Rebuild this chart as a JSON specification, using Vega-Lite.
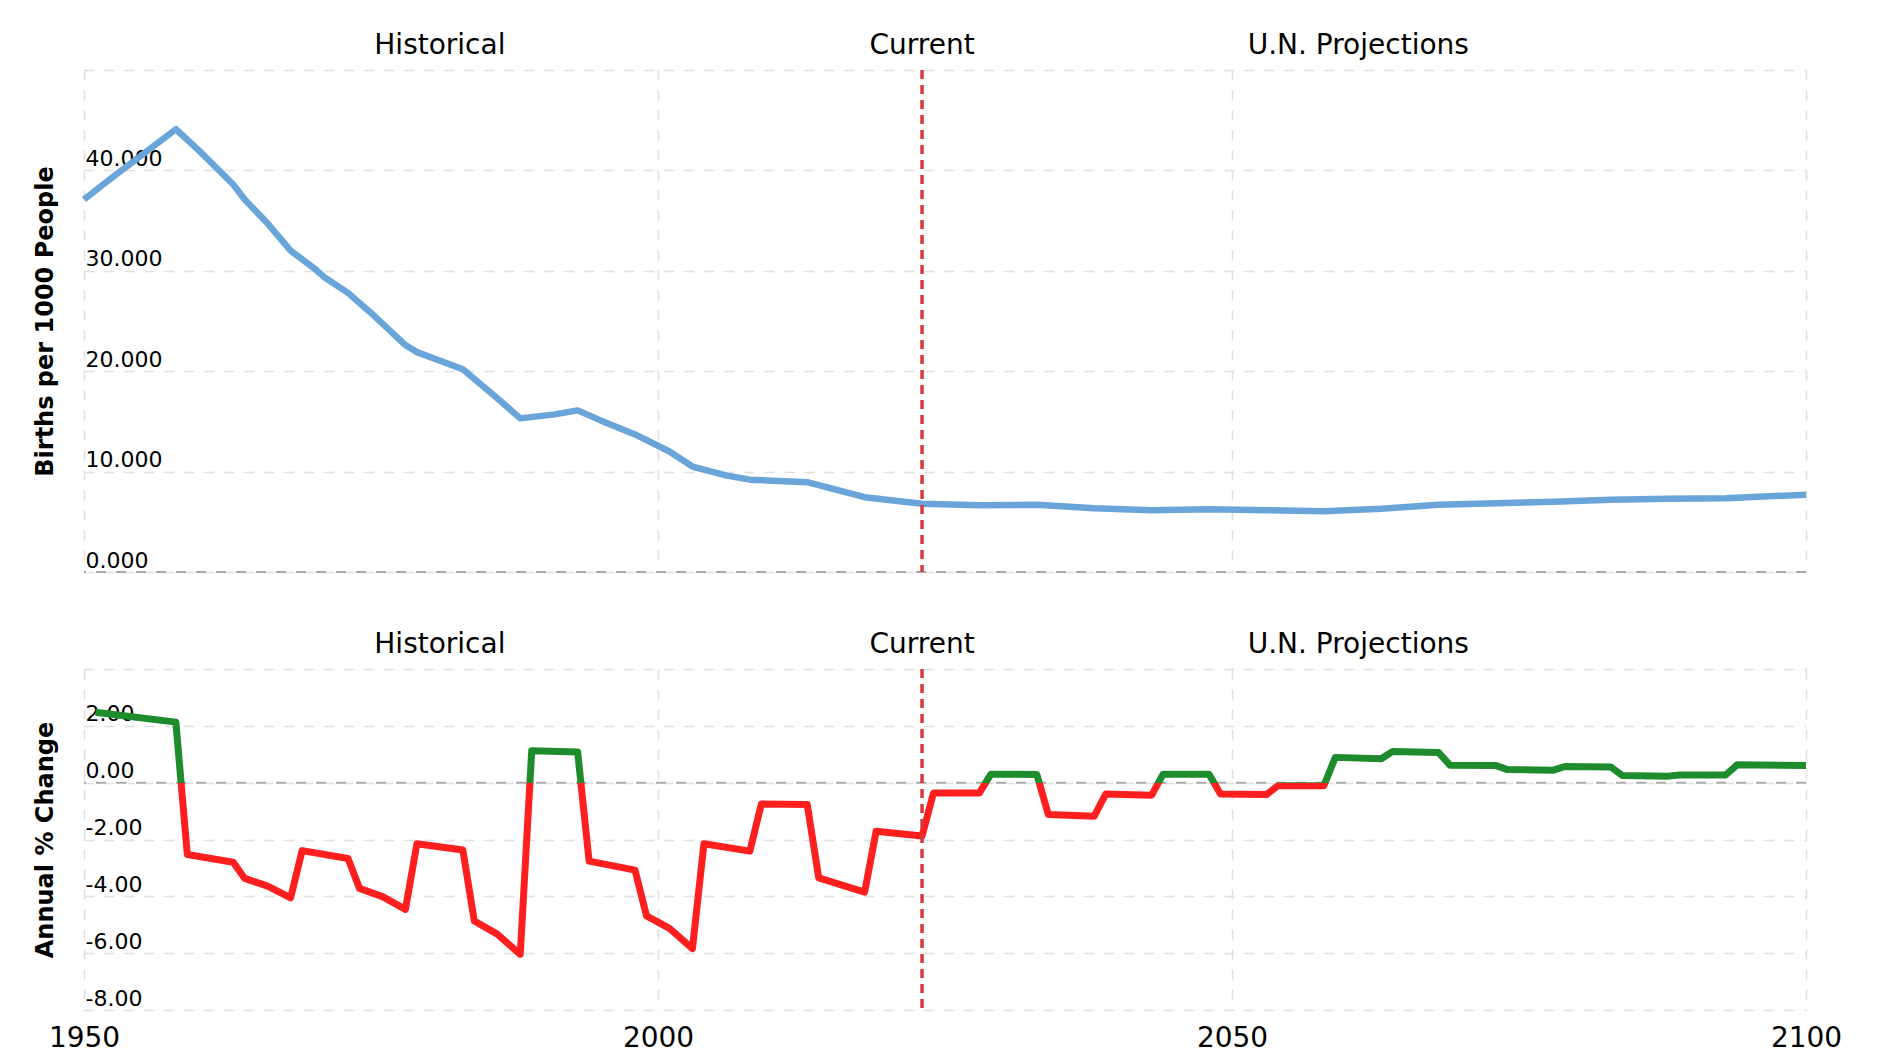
{
  "$schema": "https://vega.github.io/schema/vega-lite/v6.json",
  "autosize": {"type": "pad"},
  "padding": {"left": 33, "top": 31, "right": 10, "bottom": 5},
  "background": "white",
  "config": {
    "view": {"stroke": null},
    "font": "DejaVu Sans",
    "axis": {
      "gridColor": "#e0e0e0",
      "gridDash": [10, 10],
      "gridWidth": 1.5,
      "domain": false,
      "ticks": false,
      "tickSize": 0,
      "labelColor": "#000000",
      "titleColor": "#000000"
    },
    "axisY": {
      "labelAlign": "left",
      "labelPadding": -1,
      "labelBaseline": "bottom",
      "labelFontSize": 22,
      "labelFontWeight": "normal",
      "titleFontSize": 24,
      "titleFontWeight": "bold",
      "titleX": -32,
      "titleAngle": -90,
      "titleAlign": "center",
      "titleBaseline": "alphabetic"
    }
  },
  "datasets": {
    "births": [
      {"year": 1950, "rate": 37.1}, {"year": 1952, "rate": 38.9}, {"year": 1955, "rate": 41.5}, {"year": 1958, "rate": 44.1},
      {"year": 1960, "rate": 42.0}, {"year": 1963, "rate": 38.6}, {"year": 1964, "rate": 37.1}, {"year": 1966, "rate": 34.7},
      {"year": 1968, "rate": 32.0}, {"year": 1970, "rate": 30.3}, {"year": 1971, "rate": 29.3}, {"year": 1973, "rate": 27.8},
      {"year": 1975, "rate": 25.8}, {"year": 1978, "rate": 22.6}, {"year": 1979, "rate": 21.9}, {"year": 1983, "rate": 20.2},
      {"year": 1986, "rate": 17.3}, {"year": 1988, "rate": 15.3}, {"year": 1991, "rate": 15.7}, {"year": 1993, "rate": 16.1},
      {"year": 1995, "rate": 15.1}, {"year": 1998, "rate": 13.7}, {"year": 2001, "rate": 12.0}, {"year": 2003, "rate": 10.5},
      {"year": 2006, "rate": 9.6}, {"year": 2008, "rate": 9.2}, {"year": 2013, "rate": 8.95}, {"year": 2018, "rate": 7.45},
      {"year": 2023, "rate": 6.8}, {"year": 2028, "rate": 6.65}, {"year": 2033, "rate": 6.7}, {"year": 2038, "rate": 6.35},
      {"year": 2043, "rate": 6.15}, {"year": 2048, "rate": 6.25}, {"year": 2053, "rate": 6.15}, {"year": 2058, "rate": 6.05},
      {"year": 2063, "rate": 6.3}, {"year": 2068, "rate": 6.7}, {"year": 2073, "rate": 6.85}, {"year": 2078, "rate": 7.0},
      {"year": 2083, "rate": 7.2}, {"year": 2088, "rate": 7.3}, {"year": 2093, "rate": 7.35}, {"year": 2100, "rate": 7.7}
    ],
    "change": [
      {"year": 1951, "pct": 2.48}, {"year": 1958, "pct": 2.13}, {"year": 1959, "pct": -2.53}, {"year": 1963, "pct": -2.80},
      {"year": 1964, "pct": -3.37}, {"year": 1966, "pct": -3.64}, {"year": 1968, "pct": -4.05}, {"year": 1969, "pct": -2.39},
      {"year": 1973, "pct": -2.67}, {"year": 1974, "pct": -3.72}, {"year": 1976, "pct": -4.01}, {"year": 1978, "pct": -4.46},
      {"year": 1979, "pct": -2.15}, {"year": 1983, "pct": -2.37}, {"year": 1984, "pct": -4.87}, {"year": 1986, "pct": -5.33},
      {"year": 1988, "pct": -6.04}, {"year": 1989, "pct": 1.12}, {"year": 1993, "pct": 1.08}, {"year": 1994, "pct": -2.76},
      {"year": 1998, "pct": -3.08}, {"year": 1999, "pct": -4.69}, {"year": 2001, "pct": -5.13}, {"year": 2003, "pct": -5.84},
      {"year": 2004, "pct": -2.15}, {"year": 2008, "pct": -2.41}, {"year": 2009, "pct": -0.75}, {"year": 2013, "pct": -0.77},
      {"year": 2014, "pct": -3.35}, {"year": 2018, "pct": -3.85}, {"year": 2019, "pct": -1.71}, {"year": 2023, "pct": -1.88},
      {"year": 2024, "pct": -0.36}, {"year": 2028, "pct": -0.36}, {"year": 2029, "pct": 0.30}, {"year": 2033, "pct": 0.29},
      {"year": 2034, "pct": -1.12}, {"year": 2038, "pct": -1.18}, {"year": 2039, "pct": -0.40}, {"year": 2043, "pct": -0.44},
      {"year": 2044, "pct": 0.30}, {"year": 2048, "pct": 0.30}, {"year": 2049, "pct": -0.40}, {"year": 2053, "pct": -0.42},
      {"year": 2054, "pct": -0.11}, {"year": 2058, "pct": -0.11}, {"year": 2059, "pct": 0.89}, {"year": 2063, "pct": 0.84},
      {"year": 2064, "pct": 1.10}, {"year": 2068, "pct": 1.06}, {"year": 2069, "pct": 0.61}, {"year": 2073, "pct": 0.60},
      {"year": 2074, "pct": 0.46}, {"year": 2078, "pct": 0.44}, {"year": 2079, "pct": 0.57}, {"year": 2083, "pct": 0.55},
      {"year": 2084, "pct": 0.25}, {"year": 2088, "pct": 0.23}, {"year": 2089, "pct": 0.27}, {"year": 2093, "pct": 0.27},
      {"year": 2094, "pct": 0.63}, {"year": 2100, "pct": 0.60}
    ],
    "periods": [
      {"year": 1981, "label": "Historical"},
      {"year": 2023, "label": "Current"},
      {"year": 2061, "label": "U.N. Projections"}
    ],
    "current": [{"year": 2023}],
    "zero": [{"value": 0}]
  },
  "spacing": 97,
  "bounds": "flush",
  "vconcat": [
    {
      "width": 1722,
      "height": 502,
      "layer": [
        {
          "data": {"name": "zero"},
          "mark": {"type": "rule", "color": "#aaaaaa", "strokeDash": [10, 10], "strokeWidth": 2},
          "encoding": {"y": {"field": "value", "type": "quantitative"}}
        },
        {
          "data": {"name": "births"},
          "mark": {"type": "line", "color": "#6aa5d9", "strokeWidth": 6.5, "strokeJoin": "round"},
          "encoding": {
            "x": {
              "field": "year", "type": "quantitative",
              "scale": {"domain": [1950, 2100], "nice": false, "zero": false},
              "axis": {"values": [1950, 2000, 2050, 2100], "labels": false, "title": null}
            },
            "y": {
              "field": "rate", "type": "quantitative",
              "scale": {"domain": [0, 50], "nice": false, "zero": false},
              "axis": {
                "values": [0, 10, 20, 30, 40, 50],
                "title": "Births per 1000 People",
                "labelExpr": "datum.value == 50 ? '' : format(datum.value, '.3f')"
              }
            }
          }
        },
        {
          "data": {"name": "current"},
          "mark": {"type": "rule", "color": "#d63a3f", "strokeDash": [9, 6], "strokeWidth": 3.5},
          "encoding": {"x": {"field": "year", "type": "quantitative"}}
        },
        {
          "data": {"name": "periods"},
          "mark": {"type": "text", "fontSize": 28, "color": "#000000", "baseline": "alphabetic", "align": "center"},
          "encoding": {
            "x": {"field": "year", "type": "quantitative"},
            "y": {"datum": 51.6},
            "text": {"field": "label"}
          }
        }
      ]
    },
    {
      "width": 1722,
      "height": 341,
      "layer": [
        {
          "data": {"name": "zero"},
          "mark": {"type": "rule", "color": "#aaaaaa", "strokeDash": [10, 10], "strokeWidth": 2},
          "encoding": {"y": {"field": "value", "type": "quantitative"}}
        },
        {
          "data": {"name": "change"},
          "mark": {
            "type": "line",
            "strokeWidth": 7,
            "strokeJoin": "round",
            "stroke": {
              "gradient": "linear",
              "x1": 0, "y1": 0, "x2": 0, "y2": 1,
              "stops": [
                {"offset": 0, "color": "#1e8c2d"},
                {"offset": 0.29108, "color": "#1e8c2d"},
                {"offset": 0.29108, "color": "#ff1f1f"},
                {"offset": 1, "color": "#ff1f1f"}
              ]
            }
          },
          "encoding": {
            "x": {
              "field": "year", "type": "quantitative",
              "scale": {"domain": [1950, 2100], "nice": false, "zero": false},
              "axis": {
                "values": [1950, 2000, 2050, 2100],
                "format": "d",
                "labelFontSize": 28,
                "labelPadding": 14,
                "labelFlush": false,
                "labelOverlap": false,
                "title": null
              }
            },
            "y": {
              "field": "pct", "type": "quantitative",
              "scale": {"domain": [-8, 4], "nice": false, "zero": false},
              "axis": {
                "values": [-8, -6, -4, -2, 0, 2, 4],
                "title": "Annual % Change",
                "labelExpr": "datum.value == 4 ? '' : replace(format(datum.value, '.2f'), '−', '-')"
              }
            }
          }
        },
        {
          "data": {"name": "current"},
          "mark": {"type": "rule", "color": "#d63a3f", "strokeDash": [9, 6], "strokeWidth": 3.5},
          "encoding": {"x": {"field": "year", "type": "quantitative"}}
        },
        {
          "data": {"name": "periods"},
          "mark": {"type": "text", "fontSize": 28, "color": "#000000", "baseline": "alphabetic", "align": "center"},
          "encoding": {
            "x": {"field": "year", "type": "quantitative"},
            "y": {"datum": 4.55},
            "text": {"field": "label"}
          }
        }
      ]
    }
  ]
}
